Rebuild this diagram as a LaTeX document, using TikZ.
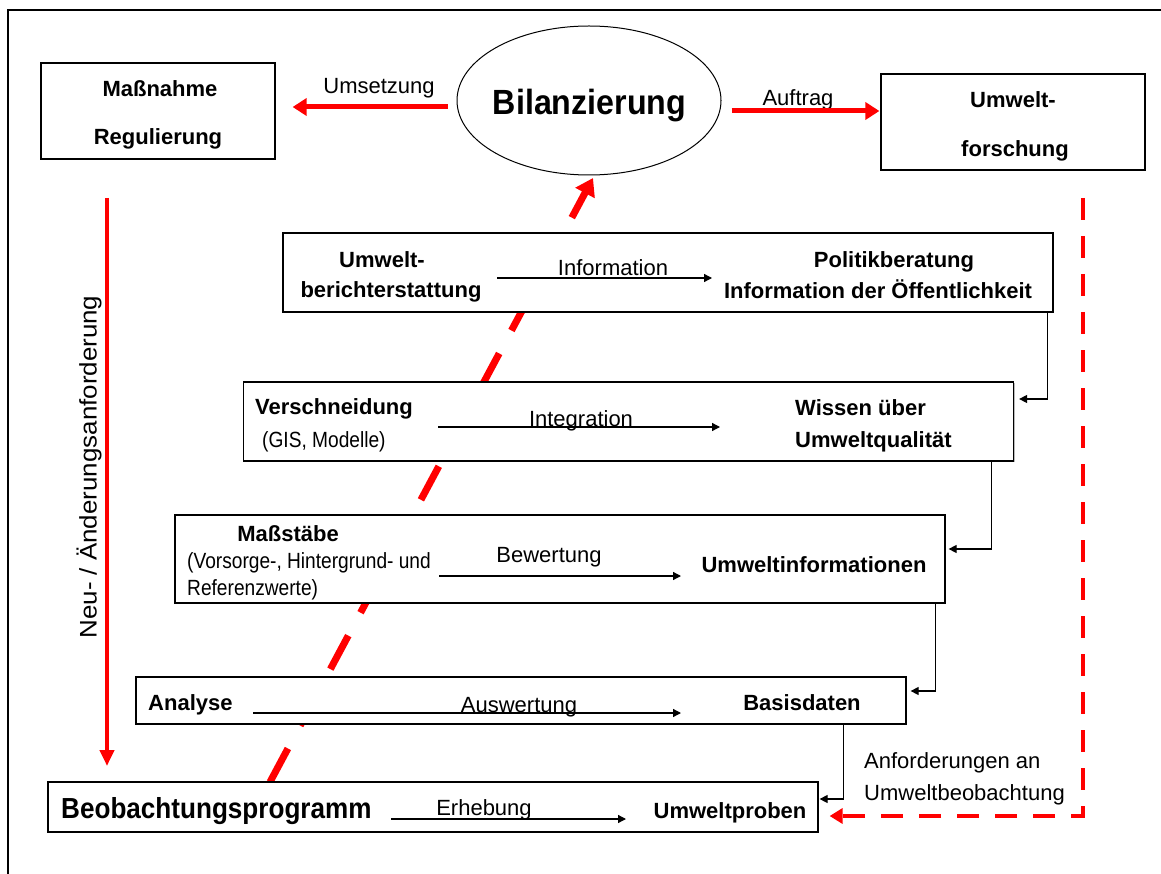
\documentclass[tikz,border=0pt]{standalone}
\usepackage{fontspec}
\setmainfont{Liberation Sans}
\usepackage{graphicx}
\usetikzlibrary{arrows.meta,shapes.geometric,shadows}

% horizontally squeezed text
\newcommand\hsq[2]{\scalebox{#1}[1]{#2}}

\tikzset{
  box/.style={draw=black, line width=1.2pt, fill=white, rectangle, inner sep=0pt,
    minimum width=770pt,
    drop shadow={shadow xshift=1.4pt, shadow yshift=-1.4pt, fill=black!45, opacity=0.6}},
  lbl/.style={anchor=base, inner sep=0pt, font=\fontsize{22}{26}\selectfont},
  blbl/.style={lbl, font=\fontsize{22}{26}\selectfont\bfseries},
  flow/.style={-{Triangle[length=8pt,width=8pt]}, line width=1.3pt, black},
  conn/.style={-{Triangle[length=8pt,width=8pt]}, line width=1.1pt, black},
  redarrow/.style={red, line width=5pt, -{Triangle[length=14pt,width=17pt]}},
  reddash/.style={red, line width=4.7pt, dash pattern=on 22pt off 16pt,
    -{Triangle[length=13pt,width=15pt]}},
}

\begin{document}
\begin{tikzpicture}[x=1pt, y=-1pt]
\useasboundingbox (0,0) rectangle (1161,874);

% outer frame (top and left edges)
\draw[line width=2.2pt] (1161,10) -- (8,10) -- (8,874);

% central ellipse
\node[draw, ellipse, line width=1pt, minimum width=264pt, minimum height=149pt, inner sep=0pt] (bil) at (589,100.5) {};
\node[lbl] (tbil) at (589.5,115) {\fontsize{35}{40}\selectfont\bfseries\hsq{0.92}{Bilanzierung}};

% diagonal feedback line (drawn first, the boxes cover it)
\coordinate (dstart) at (270,782);
\draw[red, line width=7pt, dash pattern=on 38pt off 26pt, -{Triangle[length=17pt,width=21pt]}]
  (dstart) -- ([xshift=4pt,yshift=-2.5pt]bil.south);

% top boxes
\node[box, minimum width=234pt, minimum height=96pt] (mass) at (158,111) {};
\node[box, minimum width=264pt, minimum height=96pt] (forsch) at (1013,122) {};

% process boxes
\node[box, minimum height=79pt] (b1) at (668,272.5) {};
\node[box, minimum height=79pt] (b2) at (628.5,421.5) {};
\node[box, minimum height=88pt] (b3) at (560,559) {};
\node[box, minimum height=47pt] (b4) at (521,700.5) {};
\node[box, minimum height=50pt] (b5) at (433,807) {};

% top labels
\node[blbl] (tmass1) at (160,97) {Maßnahme};
\node[blbl] (tmass2) at (158,145) {Regulierung};
\node[lbl] (tums) at (379,94) {Umsetzung};
\node[lbl] (tauf) at (798,106) {Auftrag};
\node[blbl] (tfor1) at (1013,108) {Umwelt-};
\node[blbl] (tfor2) at (1015,157) {forschung};

% red arrows at the top
\draw[redarrow] ([xshift=-9pt,yshift=-6.5pt]bil.west) -- ([xshift=17pt,yshift=4pt]mass.east);
\draw[redarrow] ([xshift=10pt,yshift=-10.5pt]bil.east) -- ([xshift=-1pt,yshift=11pt]forsch.west);

% left: new / changed requirements
\coordinate (na) at (107,198);
\coordinate (nb) at (107,766);
\draw[red, line width=4.5pt, -{Triangle[length=16pt,width=14pt]}] (na) -- (nb);
\node[lbl, anchor=center, rotate=90] (tneu) at (89,467) {\fontsize{24}{28}\selectfont\hsq{1.08}{Neu- / Änderungsanforderung}};

% right: requirements for monitoring
\coordinate (rd1) at (1083,198);
\draw[reddash] (rd1) |- ([xshift=11pt,yshift=-9pt]b5.east);
\node[lbl, anchor=base west] (tanf1) at (864,768) {Anforderungen an};
\node[lbl, anchor=base west] (tanf2) at (864,800) {Umweltbeobachtung};

% box 1
\node[blbl] (tub1) at (382,268) {Umwelt-};
\node[blbl] (tub2) at (391,298) {berichterstattung};
\node[blbl] (tpol1) at (894,268) {Politikberatung};
\node[blbl] (tpol2) at (878,299) {Information der Öffentlichkeit};
\node[lbl] (tinf) at (613,276) {Information};
\coordinate (f1a) at (497,278);
\coordinate (f1b) at (712,278);
\draw[flow] (f1a) -- (f1b);

% box 2
\node[blbl] (tver) at (334,414) {Verschneidung};
\node[lbl, anchor=base west] (tgis) at (262,447) {\hsq{0.87}{(GIS, Modelle)}};
\node[lbl] (tint) at (581,426) {Integration};
\node[blbl, anchor=base west] (twis1) at (795,415) {Wissen über};
\node[blbl, anchor=base west] (twis2) at (795,447) {Umweltqualität};
\coordinate (f2a) at (438,427);
\coordinate (f2b) at (720,427);
\draw[flow] (f2a) -- (f2b);

% box 3
\node[blbl] (tmst) at (288,541) {Maßstäbe};
\node[lbl, anchor=base west] (tvor1) at (187,568) {\hsq{0.87}{(Vorsorge-, Hintergrund- und}};
\node[lbl, anchor=base west] (tvor2) at (187,595) {\hsq{0.87}{Referenzwerte)}};
\node[lbl] (tbew) at (549,562) {Bewertung};
\node[blbl] (tuinf) at (814,572) {Umweltinformationen};
\coordinate (f3a) at (439,576);
\coordinate (f3b) at (681,576);
\draw[flow] (f3a) -- (f3b);

% box 4
\node[blbl, anchor=base west] (tana) at (148,710) {Analyse};
\node[lbl] (taus) at (519,712) {Auswertung};
\node[blbl] (tbas) at (802,710) {Basisdaten};
\coordinate (f4a) at (253,713);
\coordinate (f4b) at (681,713);
\draw[flow] (f4a) -- (f4b);

% box 5
\node[lbl, anchor=base west] (tbeo) at (61,818) {\fontsize{29}{34}\selectfont\bfseries\hsq{0.9}{Beobachtungsprogramm}};
\node[lbl] (terh) at (484,815) {Erhebung};
\node[blbl] (tupr) at (730,818) {Umweltproben};
\coordinate (f5a) at (391,819);
\coordinate (f5b) at (626,819);
\draw[flow] (f5a) -- (f5b);

% step connectors between the boxes
\draw[conn] ([xshift=-6pt]b1.south east) |- ([xshift=5pt,yshift=22.5pt]b2.east);
\draw[conn] ([xshift=-23pt]b2.south east) |- ([xshift=3pt,yshift=10pt]b3.east);
\draw[conn] ([xshift=-10pt]b3.south east) |- ([xshift=4pt,yshift=9.5pt]b4.east);
\draw[conn] ([xshift=-63pt]b4.south east) |- ([xshift=1pt,yshift=8pt]b5.east);

\end{tikzpicture}
\end{document}
